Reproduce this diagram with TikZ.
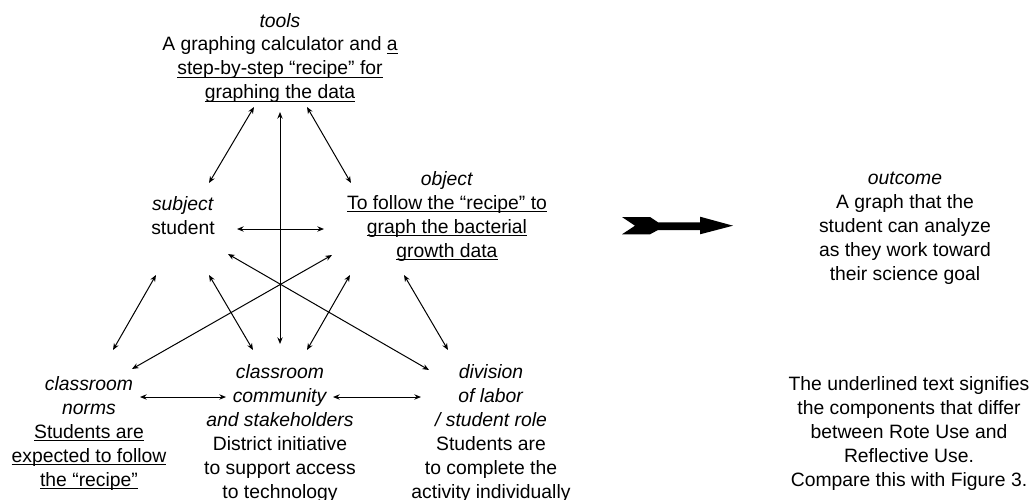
\documentclass[tikz,border=0pt]{standalone}
\usepackage{fontspec}
\setmainfont{Liberation Sans}
\usetikzlibrary{arrows.meta}
\newcommand\myul[1]{\setbox0=\hbox{#1}\rlap{\rule[-2.2pt]{\wd0}{0.85pt}}\box0}
\begin{document}
\begin{tikzpicture}[x=0.75pt,y=-0.75pt,
  lbl/.style={align=center, font=\fontsize{14.5}{18}\selectfont, inner sep=0pt},
  link/.style={{Stealth[length=5pt,width=4pt]}-{Stealth[length=5pt,width=4pt]}, line width=0.75pt},
  bigarrow/.style={fill=black}
]
\useasboundingbox (0,0) rectangle (1033,500);

% text blocks
\node[lbl] (tools) at (280,58) {\textit{tools}\\A graphing calculator and \myul{a}\\\myul{step-by-step “recipe” for}\\\myul{graphing the data}};
\node[lbl] (subject) at (183,215.5) {\textit{subject}\\student};
\node[lbl] (object) at (447,216) {\textit{object}\\\myul{To follow the “recipe” to}\\\myul{graph the bacterial}\\\myul{growth data}};
\node[lbl] (outcome) at (905,228.5) {\textit{outcome}\\A graph that the\\student can analyze\\as they work toward\\their science goal};
\node[lbl] (norms) at (89,433) {\textit{classroom}\\\textit{norms}\\\myul{Students are}\\\myul{expected to follow}\\\myul{the “recipe”}};
\node[lbl] (community) at (280,433) {\textit{classroom}\\\textit{community}\\\textit{and stakeholders}\\District initiative\\to support access\\to technology};
\node[lbl] (division) at (491,433) {\textit{division}\\\textit{of labor}\\\textit{/ student role}\\Students are\\to complete the\\activity individually};
\node[lbl] (note) at (909,433) {The underlined text signifies\\the components that differ\\between Rote Use and\\Reflective Use.\\Compare this with Figure 3.};

% connector end points
\coordinate (ts1) at (254,107); \coordinate (ts2) at (209,183);
\coordinate (to1) at (307,107); \coordinate (to2) at (351,183);
\coordinate (tc1) at (280,112); \coordinate (tc2) at (280,344);
\coordinate (so1) at (237,229); \coordinate (so2) at (324,229);
\coordinate (ns1) at (156,275); \coordinate (ns2) at (113,350);
\coordinate (sc1) at (209,275); \coordinate (sc2) at (253,350);
\coordinate (oc1) at (350,275); \coordinate (oc2) at (307,350);
\coordinate (od1) at (404,275); \coordinate (od2) at (448,350);
\coordinate (on1) at (332,255); \coordinate (on2) at (132,369);
\coordinate (sd1) at (228,254); \coordinate (sd2) at (429,370);
\coordinate (nc1) at (140,397); \coordinate (nc2) at (226,397);
\coordinate (cd1) at (333,397); \coordinate (cd2) at (421,397);

\draw[link] (ts1) -- (ts2);
\draw[link] (to1) -- (to2);
\draw[link] (tc1) -- (tc2);
\draw[link] (so1) -- (so2);
\draw[link] (ns1) -- (ns2);
\draw[link] (sc1) -- (sc2);
\draw[link] (oc1) -- (oc2);
\draw[link] (od1) -- (od2);
\draw[link] (on1) -- (on2);
\draw[link] (sd1) -- (sd2);
\draw[link] (nc1) -- (nc2);
\draw[link] (cd1) -- (cd2);

% big arrow toward outcome
\fill[bigarrow] (622,217) -- (650,217) -- (658,222.3) -- (700,222.3) -- (700,216.7) -- (733,225.7) -- (700,234.3) -- (700,230) -- (658,230) -- (650,234.3) -- (622,234.3) -- (635,225.7) -- cycle;
\end{tikzpicture}
\end{document}
